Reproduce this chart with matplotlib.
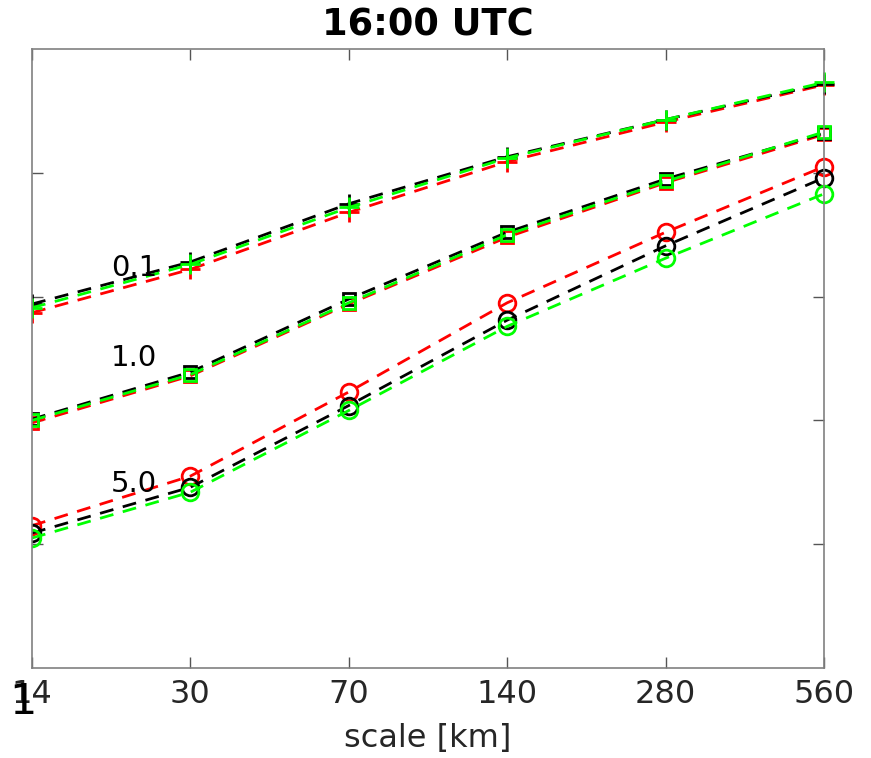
import matplotlib
matplotlib.use("Agg")
import matplotlib.pyplot as plt
from matplotlib.patches import Rectangle

# Horizontal scales (equally spaced categories)
scales = ["14", "30", "70", "140", "280", "560"]

# Score curves for the three thresholds, one per colour run
thr_labels = ["0.1", "1.0", "5.0"]

plus_black = [2.94, 3.28, 3.75, 4.13, 4.43, 4.72]
plus_green = [2.91, 3.26, 3.72, 4.12, 4.43, 4.73]
plus_red = [2.87, 3.22, 3.68, 4.09, 4.41, 4.71]

square_black = [2.01, 2.39, 2.98, 3.52, 3.95, 4.32]
square_green = [2.00, 2.37, 2.95, 3.50, 3.93, 4.33]
square_red = [1.98, 2.36, 2.94, 3.48, 3.92, 4.31]

circle_black = [1.09, 1.46, 2.12, 2.81, 3.41, 3.96]
circle_green = [1.05, 1.42, 2.08, 2.76, 3.31, 3.83]
circle_red = [1.15, 1.55, 2.23, 2.95, 3.52, 4.05]

y_ticks = [1, 2, 3, 4]

fig = plt.figure(figsize=(8.71, 7.58), dpi=100)
ax = fig.add_axes([32 / 871, 90 / 758, 792 / 871, 619 / 758])

x = list(range(len(scales)))
clip = Rectangle((0, 0), 1.1, 1.0, transform=ax.transAxes, fill=False, visible=False)
ax.add_patch(clip)

series = [
    (plus_red, plus_black, plus_green, "+", 15, 2.0),
    (square_red, square_black, square_green, "s", 8.5, 2.0),
    (circle_red, circle_black, circle_green, "o", 12, 2.0),
]
colors = ["#ff0000", "#000000", "#00ff00"]
for red, black, green, mk, ms, mew in series:
    for vals, c in zip((red, black, green), colors):
        ln, = ax.plot(x, vals, linestyle=(0, (5, 3.5)), color=c, lw=2.0,
                      marker=mk, markersize=ms, markerfacecolor="none",
                      markeredgecolor=c, markeredgewidth=mew)
        ln.set_clip_path(clip)

# Threshold annotations
label_pos = [(0.5, 3.23), (0.5, 2.5), (0.5, 1.49)]
for lab, (lx, ly) in zip(thr_labels, label_pos):
    ax.text(lx, ly, lab, fontsize=21, color="black", ha="left", va="center")

ax.set_xlim(0, 5)
ax.set_ylim(0, 5)
ax.set_xticks(x)
ax.set_xticklabels(scales, fontsize=23, color="#262626")
ax.set_yticks(y_ticks)
ax.set_yticklabels([])
ax.tick_params(axis="both", direction="in", length=8, width=1, color="#555555",
               top=True, right=True, pad=8)
for s in ax.spines.values():
    s.set_color("#808080")
    s.set_linewidth(1.2)

ax.set_xlabel("scale [km]", fontsize=23, color="#262626", labelpad=9)
ax.set_title("16:00 UTC", fontsize=26.5, fontweight="bold", pad=10)

fig.text(23 / 871, 1 - 702 / 758, "1", fontsize=31, color="black",
         ha="center", va="center")

fig.savefig("out.png", dpi=100)
